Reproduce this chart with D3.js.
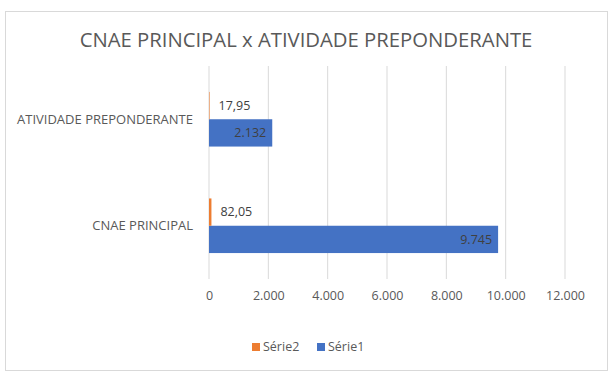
<!DOCTYPE html>
<html>
<head>
<meta charset="utf-8">
<script src="https://cdn.jsdelivr.net/npm/d3@7"></script>
<style>
  body { margin: 0; background: #fff; }
  text { font-family: "Open Sans", sans-serif; }
</style>
</head>
<body>
<div id="chart"></div>
<script>
var categories = ["ATIVIDADE PREPONDERANTE", "CNAE PRINCIPAL"];
var serie1 = [2132, 9745];
var serie2 = [17.95, 82.05];
var serie1Labels = ["2.132", "9.745"];
var serie2Labels = ["17,95", "82,05"];
var xTicks = [0, 2000, 4000, 6000, 8000, 10000, 12000];
var seriesNames = ["Série2", "Série1"];

var width = 615, height = 376;
var plot = { left: 209, right: 565, top: 66, bottom: 279 };

var svg = d3.select("#chart").append("svg")
    .attr("width", width)
    .attr("height", height);

// chart border
svg.append("rect")
    .attr("x", 5.5).attr("y", 11.5)
    .attr("width", 602).attr("height", 359)
    .attr("fill", "#fff")
    .attr("stroke", "#d9d9d9");

svg.append("text")
    .attr("x", 306).attr("y", 47)
    .attr("text-anchor", "middle")
    .attr("font-size", 20.3)
    .attr("fill", "#595959")
    .text("CNAE PRINCIPAL x ATIVIDADE PREPONDERANTE");

var x = d3.scaleLinear().domain([0, 12000]).range([plot.left, plot.right]);
var y = d3.scaleBand().domain(categories).range([plot.top, plot.bottom]);
var inner = d3.scaleBand().domain(["s2", "s1"])
    .range([0, y.bandwidth()]).paddingInner(0).paddingOuter(0.95);

// grid
svg.append("g").selectAll("line").data(xTicks).join("line")
    .attr("x1", d => x(d)).attr("x2", d => x(d))
    .attr("y1", plot.top).attr("y2", plot.bottom)
    .attr("stroke", "#d9d9d9").attr("stroke-width", 1);

// x axis
var xAxis = svg.append("g")
    .attr("transform", "translate(0," + plot.bottom + ")")
    .call(d3.axisBottom(x).tickValues(xTicks).tickSize(0).tickPadding(12)
        .tickFormat(d => d3.format(",")(d).replace(/,/g, ".")));
xAxis.select(".domain").remove();
xAxis.selectAll("text").attr("font-size", 12.5).attr("fill", "#595959")
    .style("font-family", "'Open Sans', sans-serif");

// category labels
svg.append("g").selectAll("text").data(categories).join("text")
    .attr("x", 193)
    .attr("y", d => y(d) + y.bandwidth() / 2)
    .attr("dy", "0.35em")
    .attr("text-anchor", "end")
    .attr("font-size", 13)
    .attr("fill", "#595959")
    .text(d => d);

// Série1 bars
svg.append("g").selectAll("rect").data(categories).join("rect")
    .attr("x", x(0))
    .attr("y", d => y(d) + inner("s1"))
    .attr("width", (d, i) => x(serie1[i]) - x(0))
    .attr("height", inner.bandwidth())
    .attr("fill", "#4472C4");

// Série2 bars
svg.append("g").selectAll("rect").data(categories).join("rect")
    .attr("x", x(0))
    .attr("y", d => y(d) + inner("s2"))
    .attr("width", (d, i) => x(serie2[i]) - x(0))
    .attr("height", inner.bandwidth())
    .attr("fill", "#ED7D31");

// labels Série1 (inside end)
svg.append("g").selectAll("text").data(categories).join("text")
    .attr("x", (d, i) => x(serie1[i]) - 6)
    .attr("y", d => y(d) + inner("s1") + inner.bandwidth() / 2)
    .attr("dy", "0.35em")
    .attr("text-anchor", "end")
    .attr("font-size", 12.5)
    .attr("fill", "#404040")
    .text((d, i) => serie1Labels[i]);

// labels Série2 (outside end)
svg.append("g").selectAll("text").data(categories).join("text")
    .attr("x", (d, i) => x(serie2[i]) + 9)
    .attr("y", d => y(d) + inner("s2") + inner.bandwidth() / 2)
    .attr("dy", "0.35em")
    .attr("font-size", 12.5)
    .attr("fill", "#404040")
    .text((d, i) => serie2Labels[i]);

// legend
var legendColors = ["#ED7D31", "#4472C4"];
var legendX = [252, 317];
var legend = svg.append("g").selectAll("g").data(seriesNames).join("g")
    .attr("transform", (d, i) => "translate(" + legendX[i] + ",347)");
legend.append("rect")
    .attr("x", 0).attr("y", -4)
    .attr("width", 8).attr("height", 8)
    .attr("fill", (d, i) => legendColors[i]);
legend.append("text")
    .attr("x", 11).attr("dy", "0.35em")
    .attr("font-size", 12.5)
    .attr("fill", "#595959")
    .text(d => d);
</script>
</body>
</html>
